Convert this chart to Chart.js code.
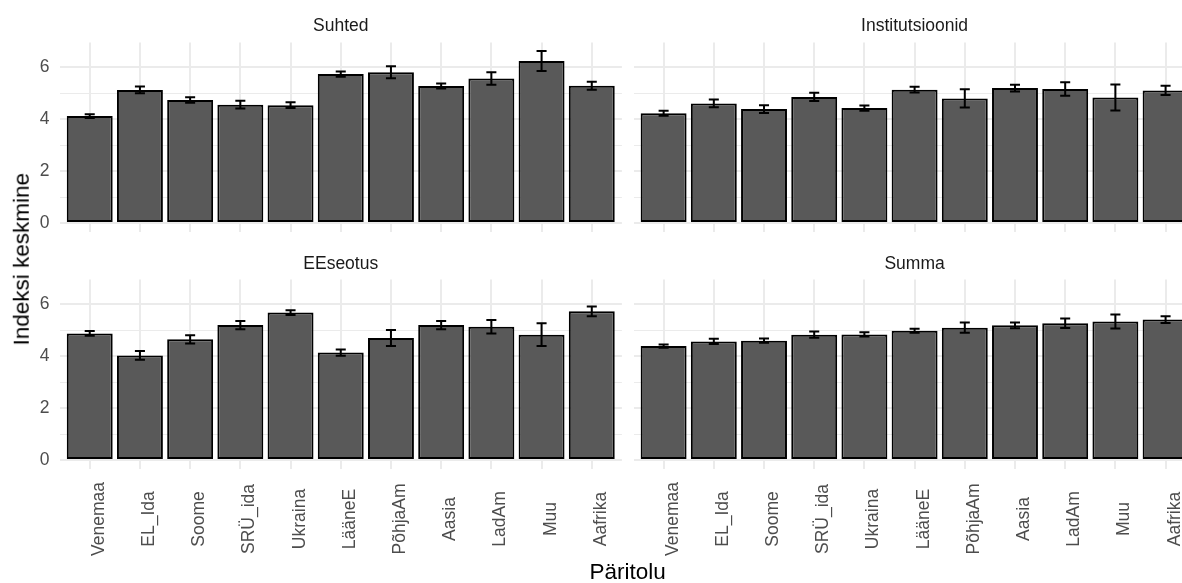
<!DOCTYPE html>
<html>
<head>
<meta charset="utf-8">
<script src="https://cdn.jsdelivr.net/npm/chart.js@4"></script>
<style>
  html, body { margin: 0; padding: 0; background: #fff; }
  #wrap { position: relative; width: 1182px; height: 583px; overflow: hidden;
          font-family: "Liberation Sans", Arial, Helvetica, sans-serif; }
  #wrap canvas { position: absolute; left: 0; top: 0; }
  .txt { position: absolute; white-space: nowrap; text-align: center; }
  .strip { font-size: 17.5px; line-height: 17.5px; color: #1A1A1A; }
  .axtitle { font-size: 22.5px; line-height: 22.5px; color: #000; }
</style>
</head>
<body>
<div id="wrap">
  <canvas id="p0" width="1200" height="583"></canvas>
  <canvas id="p1" width="1200" height="583"></canvas>
  <canvas id="p2" width="1200" height="583"></canvas>
  <canvas id="p3" width="1200" height="583"></canvas>
</div>
<script>
// Origin groups (x axis) shared by all four facets
const categories = ['Venemaa', 'EL_Ida', 'Soome', 'SRÜ_ida', 'Ukraina', 'LääneE', 'PõhjaAm', 'Aasia', 'LadAm', 'Muu', 'Aafrika'];

// Facet titles
const panelTitles = ['Suhted', 'Institutsioonid', 'EEseotus', 'Summa'];

// Index means and error half-widths per facet
const suhtedMean = [4.12, 5.13, 4.74, 4.56, 4.54, 5.74, 5.81, 5.28, 5.57, 6.24, 5.29];
const suhtedErr  = [0.07, 0.13, 0.11, 0.15, 0.11, 0.10, 0.23, 0.10, 0.24, 0.385, 0.15];

const instMean = [4.23, 4.61, 4.39, 4.86, 4.43, 5.14, 4.80, 5.20, 5.16, 4.84, 5.11];
const instErr  = [0.10, 0.15, 0.15, 0.16, 0.10, 0.11, 0.35, 0.13, 0.26, 0.50, 0.18];

const eeMean = [4.88, 4.03, 4.65, 5.20, 5.68, 4.14, 4.70, 5.20, 5.14, 4.83, 5.73];
const eeErr  = [0.09, 0.17, 0.16, 0.16, 0.09, 0.12, 0.31, 0.16, 0.26, 0.44, 0.19];

const summaMean = [4.39, 4.57, 4.60, 4.83, 4.84, 4.98, 5.10, 5.19, 5.27, 5.34, 5.41];
const summaErr  = [0.06, 0.10, 0.08, 0.12, 0.08, 0.08, 0.20, 0.11, 0.18, 0.27, 0.13];

// Y grid positions (labels on even values only)
const yTicks = [0, 1, 2, 3, 4, 5, 6];

const xTitle = 'Päritolu';
const yTitle = 'Indeksi keskmine';

// ---- layout ----
const FONT = '"Liberation Sans", Arial, Helvetica, sans-serif';
const CW = 1200, CH = 583;
const PANEL_X = [[59.6, 621.9], [633.5, 1195.7]];
const PANEL_Y = [[42.5, 231.6], [279.5, 468.6]];

// shared y range: 0 .. max upper error bar, padded by 5%
const allTop = [];
[[suhtedMean, suhtedErr], [instMean, instErr], [eeMean, eeErr], [summaMean, summaErr]]
  .forEach(([m, e]) => m.forEach((v, i) => allTop.push(v + e[i])));
const yHi = Math.max(...allTop);
const yPad = yHi * 0.05;
const yMin = -yPad, yMax = yHi + yPad;

const errorBarPlugin = {
  id: 'errorBars',
  afterDatasetsDraw(chart) {
    const xs = chart.scales.x, ys = chart.scales.y, ctx = chart.ctx;
    const ds = chart.data.datasets[0];
    const half = Math.abs(xs.getPixelForValue(0.1) - xs.getPixelForValue(0));
    ctx.save();
    ctx.strokeStyle = '#000';
    ctx.lineWidth = 2;
    ds.data.forEach((p, i) => {
      const x = xs.getPixelForValue(p.x);
      const y1 = ys.getPixelForValue(p.y - ds.errors[i]);
      const y2 = ys.getPixelForValue(p.y + ds.errors[i]);
      ctx.beginPath();
      ctx.moveTo(x, y1); ctx.lineTo(x, y2);
      ctx.moveTo(x - half, y1); ctx.lineTo(x + half, y1);
      ctx.moveTo(x - half, y2); ctx.lineTo(x + half, y2);
      ctx.stroke();
    });
    ctx.restore();
  }
};

// vertical category labels, centred under each bar
const xLabelPlugin = {
  id: 'xLabels',
  afterDraw(chart) {
    if (!chart.data.datasets[0].showLabels) return;
    const xs = chart.scales.x, ctx = chart.ctx;
    ctx.save();
    ctx.fillStyle = '#4D4D4D';
    ctx.font = '17.5px ' + FONT;
    ctx.textAlign = 'center';
    ctx.textBaseline = 'alphabetic';
    categories.forEach((c, i) => {
      const x = xs.getPixelForValue(i);
      ctx.save();
      ctx.translate(x + 14, 519);
      ctx.rotate(-Math.PI / 2);
      ctx.fillText(c, 0, 0);
      ctx.restore();
    });
    ctx.restore();
  }
};

function makePanel(id, col, row, means, errs) {
  const [l, r] = PANEL_X[col];
  const [t, b] = PANEL_Y[row];
  // left-column panels reserve the axis strip for tick labels
  const axisW = col === 0 ? l : 0;
  new Chart(document.getElementById(id), {
    type: 'bar',
    data: {
      datasets: [{
        data: means.map((v, i) => ({ x: i, y: v })),
        errors: errs,
        showLabels: row === 1,
        backgroundColor: '#595959',
        borderColor: '#000',
        borderWidth: 2,
        borderSkipped: false,
        barPercentage: 0.915,
        categoryPercentage: 1
      }]
    },
    options: {
      responsive: false,
      animation: false,
      devicePixelRatio: 1,
      events: [],
      layout: { padding: { left: l - axisW, top: t, right: CW - r, bottom: CH - b } },
      plugins: { legend: { display: false }, tooltip: { enabled: false }, title: { display: false } },
      scales: {
        x: {
          type: 'linear',
          offset: false,
          min: -0.6,
          max: categories.length - 0.4,
          afterBuildTicks: s => { s.ticks = categories.map((c, i) => ({ value: i })); },
          afterFit: s => { s.height = 0; },
          ticks: { display: false },
          grid: { color: '#EBEBEB', lineWidth: 2, drawTicks: false, offset: false },
          border: { display: false }
        },
        y: {
          type: 'linear',
          min: yMin,
          max: yMax,
          afterBuildTicks: s => { s.ticks = yTicks.map(v => ({ value: v })); },
          afterFit: s => { s.width = axisW; },
          ticks: {
            display: col === 0,
            padding: 10,
            color: '#4D4D4D',
            font: { family: FONT, size: 17.5 },
            callback: v => (v % 2 === 0 ? String(v) : '')
          },
          grid: {
            color: '#EBEBEB',
            lineWidth: c => (c.tick && c.tick.value % 2 === 0 ? 2 : 1),
            drawTicks: false
          },
          border: { display: false }
        }
      }
    },
    plugins: [errorBarPlugin, xLabelPlugin]
  });
}

makePanel('p0', 0, 0, suhtedMean, suhtedErr);
makePanel('p1', 1, 0, instMean, instErr);
makePanel('p2', 0, 1, eeMean, eeErr);
makePanel('p3', 1, 1, summaMean, summaErr);

// facet strip titles and axis titles
const wrap = document.getElementById('wrap');
function addText(text, cls, left, top, width, extra) {
  const d = document.createElement('div');
  d.className = 'txt ' + cls;
  d.textContent = text;
  d.style.left = left + 'px';
  d.style.top = top + 'px';
  d.style.width = width + 'px';
  if (extra) Object.assign(d.style, extra);
  wrap.appendChild(d);
}
const stripBaseline = [31.7, 270];
panelTitles.forEach((tt, k) => {
  const col = k % 2, row = Math.floor(k / 2);
  const [l, r] = PANEL_X[col];
  addText(tt, 'strip', l, stripBaseline[row] - 0.8465 * 17.5, r - l);
});
const xMid = (PANEL_X[0][0] + PANEL_X[1][1]) / 2;
addText(xTitle, 'axtitle', xMid - 150, 580.5 - 0.8465 * 22.5, 300);
addText(yTitle, 'axtitle', 21.7 - 150, 259 - 11.25, 300, { transform: 'rotate(-90deg)' });
</script>
</body>
</html>
